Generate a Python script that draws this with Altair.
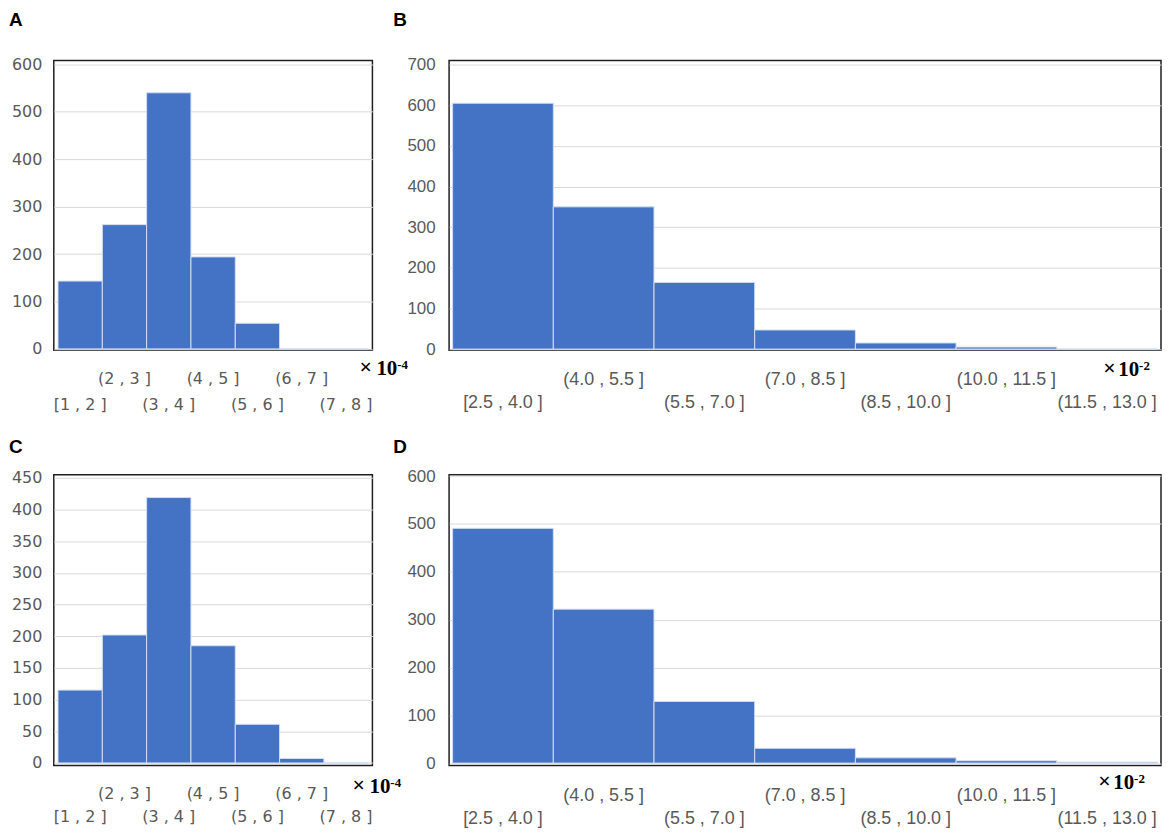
import json
import pandas as pd
import altair as alt

# ---------------- data ----------------
CATS_AC = ["[1 , 2 ]", "(2 , 3 ]", "(3 , 4 ]", "(4 , 5 ]", "(5 , 6 ]", "(6 , 7 ]", "(7 , 8 ]"]
CATS_BD = ["[2.5 , 4.0 ]", "(4.0 , 5.5 ]", "(5.5 , 7.0 ]", "(7.0 , 8.5 ]",
           "(8.5 , 10.0 ]", "(10.0 , 11.5 ]", "(11.5 , 13.0 ]"]

COUNTS_A = [143, 262, 540, 194, 54, 0, 0]
COUNTS_B = [605, 350, 164, 47, 15, 5, 0]
COUNTS_C = [115, 202, 419, 185, 61, 7, 0]
COUNTS_D = [491, 322, 129, 31, 11, 5, 2]

YTICKS_A = [0, 100, 200, 300, 400, 500, 600]
YTICKS_B = [0, 100, 200, 300, 400, 500, 600, 700]
YTICKS_C = [0, 50, 100, 150, 200, 250, 300, 350, 400, 450]
YTICKS_D = [0, 100, 200, 300, 400, 500, 600]

LETTERS = ["A", "B", "C", "D"]
EXP_AC = "-4"
EXP_BD = "-2"

BLUE = "#4472C4"
EDGE = "#d4def2"
GRAY = "#595959"


def panel(letter, cats, counts, yticks, w, h, ydom, po,
          xfont, xsize, yfont, ysize, ypad, xpad, xlh,
          ldx, ldy, exp_text, edx, edy, ten_dx, sup_dx):
    df = pd.DataFrame({"bin": cats, "count": counts})
    expr = ("indexof(%s, datum.value) %% 2 == 1 ? [datum.value, ''] : ['', datum.value]"
            % json.dumps(cats))
    bars = alt.Chart(df).mark_bar(color=BLUE, stroke=EDGE, strokeWidth=1).encode(
        x=alt.X(
            "bin:N", title=None,
            scale=alt.Scale(domain=cats, paddingInner=0, paddingOuter=po),
            axis=alt.Axis(labelExpr=expr, labelAngle=0, labelBaseline="top",
                          labelPadding=xpad, labelLineHeight=xlh,
                          labelFont=xfont, labelFontSize=xsize, labelColor=GRAY,
                          ticks=False, tickSize=0, domain=False, grid=False,
                          labelOverlap=False, labelLimit=400),
        ),
        y=alt.Y(
            "count:Q", title=None,
            scale=alt.Scale(domain=ydom, nice=False, zero=False),
            axis=alt.Axis(values=yticks, labelFont=yfont, labelFontSize=ysize,
                          labelColor=GRAY, labelPadding=ypad, ticks=False, tickSize=0,
                          domain=False, grid=True, gridColor="#d9d9d9", gridWidth=1),
        ),
        y2=alt.datum(0),
    )
    one = pd.DataFrame({"t": [0]})
    lab = alt.Chart(one).mark_text(
        text=letter, font="Liberation Sans", fontWeight="bold", fontSize=19,
        align="left", baseline="alphabetic", color="black",
    ).encode(x=alt.value(ldx), y=alt.value(ldy))
    times = alt.Chart(one).mark_text(
        text="×", font="Liberation Serif", fontWeight="bold", fontSize=22,
        align="left", baseline="alphabetic", color="black",
    ).encode(x=alt.value(w + edx), y=alt.value(h + edy - 1))
    ten = alt.Chart(one).mark_text(
        text="10", font="Liberation Serif", fontWeight="bold", fontSize=21,
        align="left", baseline="alphabetic", color="black",
    ).encode(x=alt.value(w + edx + ten_dx), y=alt.value(h + edy))
    sup = alt.Chart(one).mark_text(
        text=exp_text, font="Liberation Serif", fontWeight="bold", fontSize=13,
        align="left", baseline="alphabetic", color="black",
    ).encode(x=alt.value(w + edx + sup_dx), y=alt.value(h + edy - 6))
    return alt.layer(bars, lab, times, ten, sup).properties(width=w, height=h)


pa = panel(LETTERS[0], CATS_AC, COUNTS_A, YTICKS_A, 320, 291, [-3, 608], 0.095,
           "DejaVu Sans", 16, "DejaVu Sans", 16, 12, 20, 26, -45, -35,
           EXP_AC, -13, 25, 17, 38)
pb = panel(LETTERS[1], CATS_BD, COUNTS_B, YTICKS_B, 715, 291, [-3, 710], 0.035,
           "Liberation Sans", 18, "Liberation Sans", 17, 14, 20, 23, -56, -35,
           EXP_BD, -58, 26, 15, 36)
pc = panel(LETTERS[2], CATS_AC, COUNTS_C, YTICKS_C, 320, 292, [-4, 455], 0.095,
           "DejaVu Sans", 16, "DejaVu Sans", 16, 12, 20, 23.5, -45, -22,
           EXP_AC, -20, 28, 17, 38)
pd_ = panel(LETTERS[3], CATS_BD, COUNTS_D, YTICKS_D, 715, 292, [-5, 603], 0.035,
            "Liberation Sans", 18, "Liberation Sans", 17, 14, 21, 23, -56, -22,
            EXP_BD, -63, 24, 15, 36)

chart = alt.concat(
    pa, pb, pc, pd_, columns=2,
    spacing=alt.RowColnumber(row=125, column=77),
    bounds="flush", align="each",
).properties(padding=0).configure_view(stroke="#1f1f1f", strokeWidth=1.5)

chart.save("out.html", embed_options={"renderer": "svg", "actions": False})
